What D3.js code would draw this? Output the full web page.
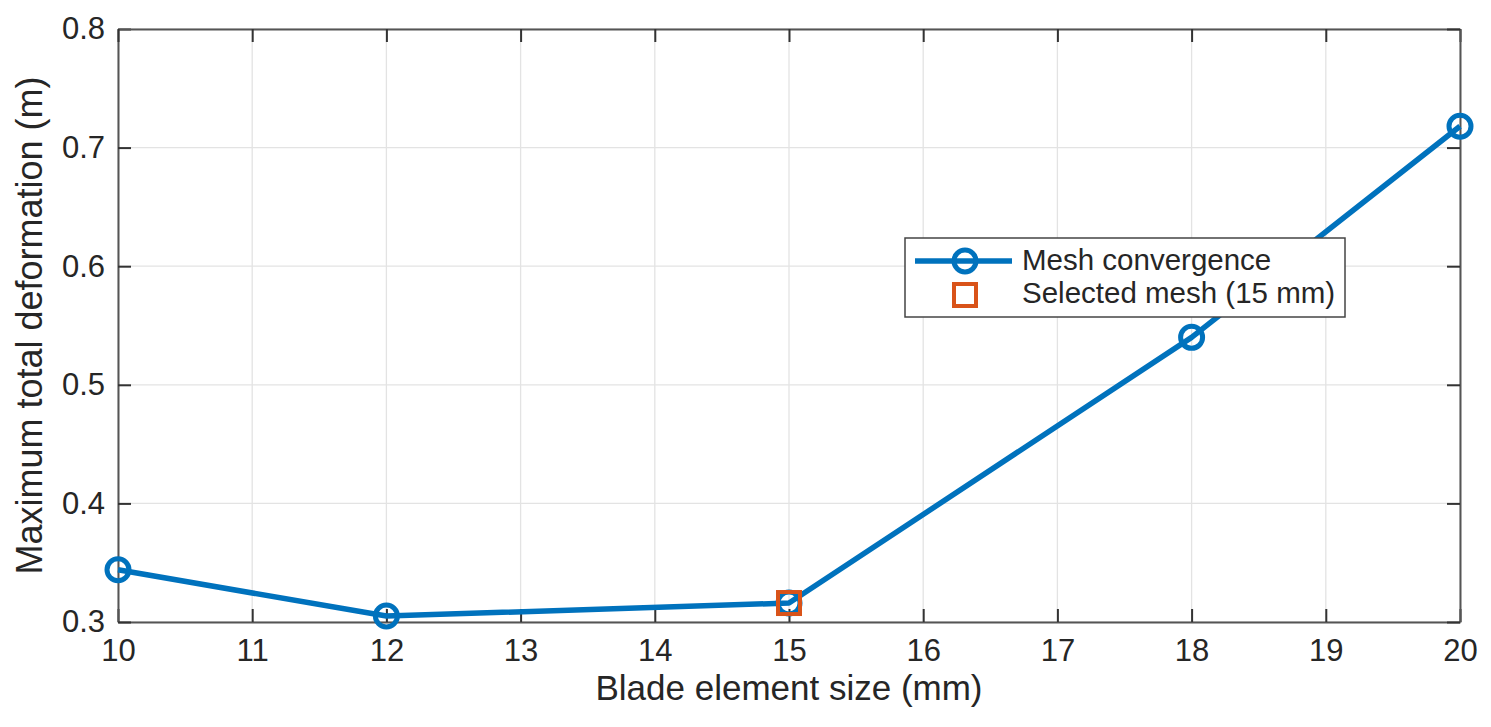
<!DOCTYPE html>
<html lang="en">
<head>
<meta charset="UTF-8">
<title>Mesh convergence</title>
<script src="https://d3js.org/d3.v7.min.js"></script>
<style>
  body { margin: 0; background: #fff; }
  text { font-family: "Liberation Sans", Arial, Helvetica, sans-serif; fill: #262626; }
</style>
</head>
<body>
<script>
    // data
    var elementSize = [10, 12, 15, 18, 20];
    var deformation = [0.344, 0.305, 0.316, 0.540, 0.718];
    var selectedSize = [15];
    var selectedDeformation = [0.316];
    var xTicks = [10, 11, 12, 13, 14, 15, 16, 17, 18, 19, 20];
    var yTicks = [0.3, 0.4, 0.5, 0.6, 0.7, 0.8];
    var legendLabels = ["Mesh convergence", "Selected mesh (15 mm)"];

    var width = 1491, height = 727;
    var margin = {top: 29, right: 31, bottom: 105, left: 118};
    var blue = "#0072BD", orange = "#D95319";

    var svg = d3.select("body").append("svg")
        .attr("width", width)
        .attr("height", height);

    var x = d3.scaleLinear().domain([10, 20]).range([margin.left, width - margin.right]);
    var y = d3.scaleLinear().domain([0.3, 0.8]).range([height - margin.bottom, margin.top]);

    // grid
    svg.append("g").selectAll("line.vx")
        .data(xTicks)
        .enter().append("line")
        .attr("x1", d => x(d)).attr("x2", d => x(d))
        .attr("y1", y(0.3)).attr("y2", y(0.8))
        .attr("stroke", "#e3e3e3").attr("stroke-width", 1.3);
    svg.append("g").selectAll("line.hy")
        .data(yTicks)
        .enter().append("line")
        .attr("y1", d => y(d)).attr("y2", d => y(d))
        .attr("x1", x(10)).attr("x2", x(20))
        .attr("stroke", "#e3e3e3").attr("stroke-width", 1.3);

    // axes (ticks inside, box on)
    var tickLen = 13;
    var axisColor = "#555";
    var xAxis = svg.append("g")
        .attr("transform", "translate(0," + y(0.3) + ")")
        .call(d3.axisBottom(x).tickValues(xTicks).tickFormat(d3.format("d")).tickSizeInner(-tickLen).tickSizeOuter(0).tickPadding(17));
    var yAxis = svg.append("g")
        .attr("transform", "translate(" + x(10) + ",0)")
        .call(d3.axisLeft(y).tickValues(yTicks).tickFormat(d3.format(".1f")).tickSizeInner(-tickLen).tickSizeOuter(0).tickPadding(13));
    var xTop = svg.append("g")
        .attr("transform", "translate(0," + y(0.8) + ")")
        .call(d3.axisTop(x).tickValues(xTicks).tickFormat("").tickSizeInner(-tickLen).tickSizeOuter(0));
    var yRight = svg.append("g")
        .attr("transform", "translate(" + x(20) + ",0)")
        .call(d3.axisRight(y).tickValues(yTicks).tickFormat("").tickSizeInner(-tickLen).tickSizeOuter(0));

    [xAxis, yAxis, xTop, yRight].forEach(function (g) {
        g.selectAll("path").attr("stroke", axisColor).attr("stroke-width", 2);
        g.selectAll("line").attr("stroke", "#333").attr("stroke-width", 2);
        g.selectAll("text").attr("font-size", 31).attr("fill", "#262626")
            .style("font-family", '"Liberation Sans", Arial, sans-serif');
    });

    // axis titles
    svg.append("text")
        .attr("x", (x(10) + x(20)) / 2)
        .attr("y", 700)
        .attr("text-anchor", "middle")
        .attr("font-size", 35)
        .text("Blade element size (mm)");
    svg.append("text")
        .attr("transform", "translate(42," + (y(0.3) + y(0.8)) / 2 + ") rotate(-90)")
        .attr("text-anchor", "middle")
        .attr("font-size", 36)
        .text("Maximum total deformation (m)");

    // series
    var pts = elementSize.map((d, i) => [d, deformation[i]]);
    var line = d3.line().x(d => x(d[0])).y(d => y(d[1]));
    svg.append("path")
        .datum(pts)
        .attr("d", line)
        .attr("fill", "none")
        .attr("stroke", blue)
        .attr("stroke-width", 5.5)
        .attr("stroke-linejoin", "round");
    svg.append("g").selectAll("circle")
        .data(pts)
        .enter().append("circle")
        .attr("cx", d => x(d[0]))
        .attr("cy", d => y(d[1]))
        .attr("r", 11)
        .attr("fill", "none")
        .attr("stroke", blue)
        .attr("stroke-width", 5);

    // selected mesh marker
    var sq = 22;
    svg.append("g").selectAll("rect")
        .data(selectedSize.map((d, i) => [d, selectedDeformation[i]]))
        .enter().append("rect")
        .attr("x", d => x(d[0]) - sq / 2)
        .attr("y", d => y(d[1]) - sq / 2)
        .attr("width", sq).attr("height", sq)
        .attr("fill", "none")
        .attr("stroke", orange)
        .attr("stroke-width", 4);

    // legend
    var lg = svg.append("g").attr("transform", "translate(905,238)");
    lg.append("rect")
        .attr("width", 440).attr("height", 79)
        .attr("fill", "#fff")
        .attr("stroke", "#444")
        .attr("stroke-width", 1.5);
    lg.append("line")
        .attr("x1", 10).attr("x2", 107)
        .attr("y1", 23).attr("y2", 23)
        .attr("stroke", blue).attr("stroke-width", 5.5);
    lg.append("circle")
        .attr("cx", 60).attr("cy", 23).attr("r", 11)
        .attr("fill", "none").attr("stroke", blue).attr("stroke-width", 5);
    lg.append("rect")
        .attr("x", 60 - sq / 2).attr("y", 57 - sq / 2)
        .attr("width", sq).attr("height", sq)
        .attr("fill", "none").attr("stroke", orange).attr("stroke-width", 4);
    lg.selectAll("text.lab")
        .data(legendLabels)
        .enter().append("text")
        .attr("x", 117)
        .attr("y", (d, i) => 32 + i * 33)
        .attr("font-size", 29.5)
        .text(d => d);
</script>
</body>
</html>
